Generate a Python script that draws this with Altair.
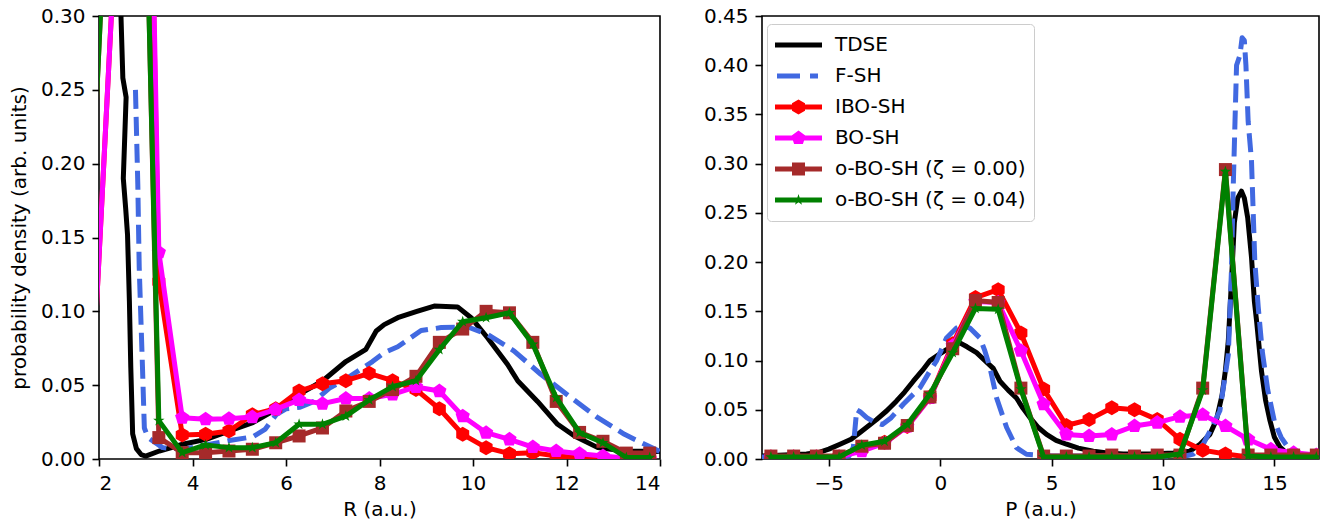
import altair as alt
import pandas as pd

# ---------------- data: left panel (R) ----------------
R_TDSE = [2.42, 2.47, 2.51, 2.58, 2.52, 2.57, 2.61, 2.65, 2.68, 2.72, 2.80, 2.90, 3.00, 3.29, 3.79, 4.29,
          4.79, 5.29, 5.79, 6.28, 6.78, 7.28, 7.71, 7.93, 8.10, 8.39, 8.80, 9.17, 9.67, 9.96, 10.31,
          10.74, 10.96, 11.38, 11.81, 12.17, 12.67, 13.24, 14.00]
V_TDSE_R = [0.90, 0.30, 0.258, 0.245, 0.19, 0.170, 0.152, 0.107, 0.062, 0.017, 0.007, 0.003, 0.002,
            0.0054, 0.010, 0.0133, 0.019, 0.0246, 0.0336, 0.0438, 0.0528, 0.066, 0.0743, 0.0867,
            0.091, 0.0957, 0.100, 0.1036, 0.103, 0.0957, 0.0821, 0.064, 0.0528, 0.039, 0.0235,
            0.0156, 0.0077, 0.0054, 0.005]

R_FSH = [2.78, 2.83, 2.86, 2.93, 2.97, 3.05, 3.36, 3.79, 4.29, 4.79, 5.29, 5.55, 5.79, 6.00, 6.30,
         6.60, 6.93, 7.32, 7.85, 8.10, 8.39, 8.89, 9.32, 9.89, 10.31, 10.88, 11.45, 12.10, 12.67,
         13.24, 14.00]
V_FSH_R = [0.25, 0.186, 0.13, 0.062, 0.021, 0.0144, 0.0077, 0.0066, 0.0095, 0.0125, 0.015, 0.020,
           0.030, 0.034, 0.035, 0.039, 0.048, 0.055, 0.066, 0.072, 0.076, 0.087, 0.089, 0.0894,
           0.0844, 0.0731, 0.0574, 0.0415, 0.028, 0.0167, 0.005]

R_MARK = [1.78, 2.28, 2.78, 3.28, 3.78, 4.28, 4.78, 5.28, 5.78, 6.28, 6.78, 7.28, 7.78, 8.28, 8.78,
          9.28, 9.78, 10.28, 10.78, 11.28, 11.78, 12.28, 12.78, 13.28, 13.78]
V_IBO_R = [0.0, 0.31, 0.95, 0.12, 0.0163, 0.0167, 0.019, 0.030, 0.034, 0.046, 0.051, 0.053, 0.058,
           0.053, 0.047, 0.034, 0.0167, 0.0077, 0.0036, 0.0043, 0.002, 0.001, 0.0, 0.0, 0.0]
V_BO_R = [0.0, 0.31, 0.94, 0.14, 0.028, 0.027, 0.0273, 0.0284, 0.0336, 0.040, 0.0375, 0.041, 0.041,
          0.0438, 0.0488, 0.046, 0.029, 0.0178, 0.0133, 0.0081, 0.0054, 0.0036, 0.002, 0.0005, 0.0]
V_OBO0_R = [0.13, 0.47, 0.70, 0.0145, 0.0043, 0.0043, 0.0054, 0.0066, 0.011, 0.0156, 0.021, 0.0325,
            0.039, 0.047, 0.056, 0.079, 0.088, 0.100, 0.099, 0.079, 0.039, 0.018, 0.012, 0.004, 0.004]
V_OBO4_R = [0.13, 0.47, 0.68, 0.026, 0.0043, 0.0095, 0.0077, 0.0077, 0.011, 0.0235, 0.0235, 0.029,
            0.040, 0.049, 0.053, 0.074, 0.093, 0.0957, 0.099, 0.0777, 0.0415, 0.0178, 0.011, 0.001, 0.001]

# ---------------- data: right panel (P) ----------------
P_TDSE = [-8.0, -7.0, -6.0, -5.4, -5.0, -4.5, -4.0, -3.6, -3.2, -2.86, -2.4, -1.96, -1.6, -1.21,
          -0.8, -0.46, 0.0, 0.28, 0.6, 0.88, 1.2, 1.63, 2.0, 2.38, 2.68, 3.05, 3.42, 3.7, 4.03, 4.4,
          4.77, 5.2, 5.67, 6.2, 6.87, 7.5, 8.21, 9.41, 10.46, 11.2, 11.66, 12.1, 12.4, 12.65, 12.8,
          12.93, 13.07, 13.2, 13.35, 13.52, 13.65, 13.8, 13.97, 14.1, 14.2, 14.42, 14.6, 14.8, 15.0,
          15.25, 15.5, 15.84, 16.3, 17.0]
V_TDSE_P = [0.003, 0.004, 0.005, 0.007, 0.010, 0.015, 0.020, 0.027, 0.034, 0.040, 0.049, 0.059,
            0.068, 0.079, 0.090, 0.100, 0.107, 0.111, 0.115, 0.118, 0.114, 0.108, 0.100, 0.092,
            0.079, 0.070, 0.062, 0.052, 0.042, 0.032, 0.025, 0.019, 0.015, 0.011, 0.008, 0.006,
            0.005, 0.005, 0.006, 0.008, 0.015, 0.025, 0.040, 0.065, 0.090, 0.120, 0.180, 0.240,
            0.265, 0.272, 0.265, 0.245, 0.205, 0.160, 0.140, 0.089, 0.060, 0.039, 0.022, 0.012,
            0.007, 0.005, 0.003, 0.002]

P_FSH = [-8.0, -6.0, -4.5, -4.1, -3.9, -3.75, -3.6, -3.3, -3.0, -2.6, -2.2, -1.66, -1.2, -0.91,
         -0.5, -0.17, 0.28, 0.73, 1.0, 1.33, 1.78, 2.0, 2.23, 2.53, 2.98, 3.42, 3.87, 5.0, 7.0, 9.0,
         11.0, 11.36, 11.8, 12.1, 12.55, 12.93, 13.07, 13.15, 13.23, 13.3, 13.45, 13.55, 13.65,
         13.72, 13.82, 13.97, 14.12, 14.27, 14.45, 14.7, 15.0, 15.3, 15.6, 16.14, 17.0]
V_FSH_P = [0.002, 0.002, 0.002, 0.003, 0.012, 0.050, 0.048, 0.042, 0.038, 0.035, 0.042, 0.0556,
           0.066, 0.0724, 0.088, 0.0996, 0.123, 0.133, 0.136, 0.133, 0.123, 0.110, 0.093, 0.062,
           0.032, 0.0115, 0.0048, 0.003, 0.003, 0.003, 0.003, 0.005, 0.015, 0.028, 0.049, 0.106,
           0.191, 0.276, 0.343, 0.400, 0.410, 0.428, 0.425, 0.400, 0.343, 0.303, 0.200, 0.155,
           0.110, 0.070, 0.038, 0.022, 0.012, 0.005, 0.003]

P_MARK = [-7.6, -6.58, -5.56, -4.54, -3.52, -2.5, -1.48, -0.46, 0.56, 1.58, 2.6, 3.62, 4.64, 5.66,
          6.68, 7.7, 8.72, 9.74, 10.76, 11.78, 12.8, 13.82, 14.84, 15.86, 16.88]
V_IBO_P = [0.002, 0.002, 0.002, 0.002, 0.010, 0.017, 0.033, 0.063, 0.117, 0.164, 0.172, 0.128,
           0.071, 0.034, 0.040, 0.052, 0.050, 0.040, 0.020, 0.009, 0.005, 0.002, 0.001, 0.0, 0.0]
V_BO_P = [0.002, 0.002, 0.002, 0.002, 0.008, 0.016, 0.033, 0.062, 0.115, 0.160, 0.159, 0.110,
          0.0556, 0.025, 0.0234, 0.025, 0.0335, 0.037, 0.043, 0.045, 0.0335, 0.020, 0.0098, 0.0064, 0.004]
V_OBO0_P = [0.003, 0.003, 0.003, 0.003, 0.013, 0.016, 0.034, 0.063, 0.112, 0.161, 0.159, 0.072,
            0.003, 0.003, 0.003, 0.004, 0.003, 0.004, 0.004, 0.072, 0.294, 0.004, 0.004, 0.004, 0.004]
V_OBO4_P = [0.002, 0.002, 0.002, 0.002, 0.014, 0.018, 0.035, 0.066, 0.108, 0.153, 0.152, 0.071,
            0.002, 0.002, 0.002, 0.002, 0.002, 0.002, 0.005, 0.070, 0.292, 0.003, 0.002, 0.002, 0.002]

SERIES = ["TDSE", "F-SH", "IBO-SH", "BO-SH", "o-BO-SH (ζ = 0.00)", "o-BO-SH (ζ = 0.04)"]
COLORS = ["#000000", "#4169e1", "#ff0000", "#ff00ff", "#a52a2a", "#008000"]

R_TICKS = [2, 4, 6, 8, 10, 12, 14]
P_TICKS = [-5, 0, 5, 10, 15]
YL_TICKS = [0.0, 0.05, 0.10, 0.15, 0.20, 0.25, 0.30]
YR_TICKS = [0.0, 0.05, 0.10, 0.15, 0.20, 0.25, 0.30, 0.35, 0.40, 0.45]

FONT = "DejaVu Sans"
LW = 5
LEFT_W = 561
RIGHT_W = 557
SPACING = 40


# ---------------- marker shapes (style only) ----------------
def poly(pts, s=1.0):
    return "M" + "L".join(f"{x * s:.4f},{y * s:.4f}" for x, y in pts) + "Z"


HEX = [(0, -1), (0.866, -0.5), (0.866, 0.5), (0, 1), (-0.866, 0.5), (-0.866, -0.5)]
PENT = [(0, -1), (0.951, -0.309), (0.588, 0.809), (-0.588, 0.809), (-0.951, -0.309)]
SQ = [(-1, -1), (1, -1), (1, 1), (-1, 1)]
ri = 0.382
STAR = [(0, -1), (0.588 * ri, -0.809 * ri), (0.951, -0.309), (0.951 * ri, 0.309 * ri), (0.588, 0.809),
        (0, ri), (-0.588, 0.809), (-0.951 * ri, 0.309 * ri), (-0.951, -0.309), (-0.588 * ri, -0.809 * ri)]

HALF = 23.5  # legend symbol half width in px
lw_u = (LW / 2) / HALF
LINE_P = poly([(-1, -lw_u), (1, -lw_u), (1, lw_u), (-1, lw_u)])
DASH_P = poly([(-0.915, -lw_u), (0.064, -lw_u), (0.064, lw_u), (-0.915, lw_u)]) + " " + \
         poly([(0.49, -lw_u), (0.83, -lw_u), (0.83, lw_u), (0.49, lw_u)])
LEG_SHAPES = [
    LINE_P,
    DASH_P,
    LINE_P + " " + poly(HEX, 7.5 / HALF),
    LINE_P + " " + poly(PENT, 7.5 / HALF),
    LINE_P + " " + poly(SQ, 6.5 / HALF),
    LINE_P + " " + poly(STAR, 6.0 / HALF),
]
MARKERS = [None, None, (poly(HEX), 225), (poly(PENT), 225), ("square", 169), (poly(STAR), 144)]


def xy(x, y):
    return pd.DataFrame({"x": x, "y": y, "i": list(range(len(x)))})


def panel(xs_curves, ys_curves, x_mark, ys_mark, xdom, xticks, xtitle, ydom, yticks, ytitle,
          width, legend=False):
    X = alt.X("x:Q", scale=alt.Scale(domain=xdom, nice=False, zero=False),
              axis=alt.Axis(values=xticks, title=xtitle, format="d"))
    Y = alt.Y("y:Q", scale=alt.Scale(domain=ydom, nice=False, zero=False),
              axis=alt.Axis(values=yticks, title=ytitle, format=".2f"))
    layers = []
    layers.append(alt.Chart(xy(xs_curves[0], ys_curves[0])).mark_line(
        color=COLORS[0], strokeWidth=LW, clip=True, strokeJoin="round", strokeCap="butt"
    ).encode(x=X, y=Y, order="i:Q"))
    layers.append(alt.Chart(xy(xs_curves[1], ys_curves[1])).mark_line(
        color=COLORS[1], strokeWidth=LW, clip=True, strokeDash=[19, 8], strokeJoin="round"
    ).encode(x=X, y=Y, order="i:Q"))
    for k in range(4):
        idx = k + 2
        d = xy(x_mark, ys_mark[k])
        layers.append(alt.Chart(d).mark_line(
            color=COLORS[idx], strokeWidth=LW, clip=True, strokeJoin="round"
        ).encode(x=X, y=Y, order="i:Q"))
        shape, size = MARKERS[idx]
        layers.append(alt.Chart(d).mark_point(
            shape=shape, size=size, filled=True, opacity=1, color=COLORS[idx], clip=True
        ).encode(x=X, y=Y))
    if legend:
        # legend coordinates are measured from the left panel's plot origin
        lx = LEFT_W + 13 + SPACING + 55 - 1
        leg = alt.Legend(orient="none", legendX=lx, legendY=8, title=None,
                         symbolSize=HALF * HALF * 4, symbolStrokeWidth=0, symbolOpacity=1,
                         clipHeight=26, rowPadding=5, labelOffset=13, labelFontSize=20,
                         labelFont=FONT, labelColor="black", labelLimit=400, padding=8,
                         strokeColor="#cccccc", fillColor="white", cornerRadius=4)
        ldf = pd.DataFrame({"series": SERIES})
        layers.append(alt.Chart(ldf).mark_point(filled=True, opacity=0).encode(
            color=alt.Color("series:N", scale=alt.Scale(domain=SERIES, range=COLORS), legend=leg),
            shape=alt.Shape("series:N", scale=alt.Scale(domain=SERIES, range=LEG_SHAPES), legend=leg),
        ))
    return alt.layer(*layers).properties(width=width, height=443)


left = panel([R_TDSE, R_FSH], [V_TDSE_R, V_FSH_R], R_MARK,
             [V_IBO_R, V_BO_R, V_OBO0_R, V_OBO4_R], [2, 14], R_TICKS, "R (a.u.)",
             [0, 0.30], YL_TICKS, "probability density (arb. units)", LEFT_W)
right = panel([P_TDSE, P_FSH], [V_TDSE_P, V_FSH_P], P_MARK,
              [V_IBO_P, V_BO_P, V_OBO0_P, V_OBO4_P], [-8, 17], P_TICKS, "P (a.u.)",
              [0, 0.45], YR_TICKS, None, RIGHT_W, legend=True)

chart = alt.hconcat(left, right, spacing=SPACING).properties(
    padding={"left": 8, "top": 5, "right": 5, "bottom": 5}
).configure_view(stroke="black", strokeWidth=1.6).configure_axis(
    grid=False, domain=False, tickSize=7, tickWidth=1.6, tickColor="black",
    labelFont=FONT, labelFontSize=20, labelColor="black", labelPadding=7,
    titleFont=FONT, titleFontSize=20, titleFontWeight="normal", titleColor="black",
).configure_axisX(titlePadding=6).configure_axisY(titlePadding=11)

chart.save("out.html", embed_options={"renderer": "svg", "actions": False})
